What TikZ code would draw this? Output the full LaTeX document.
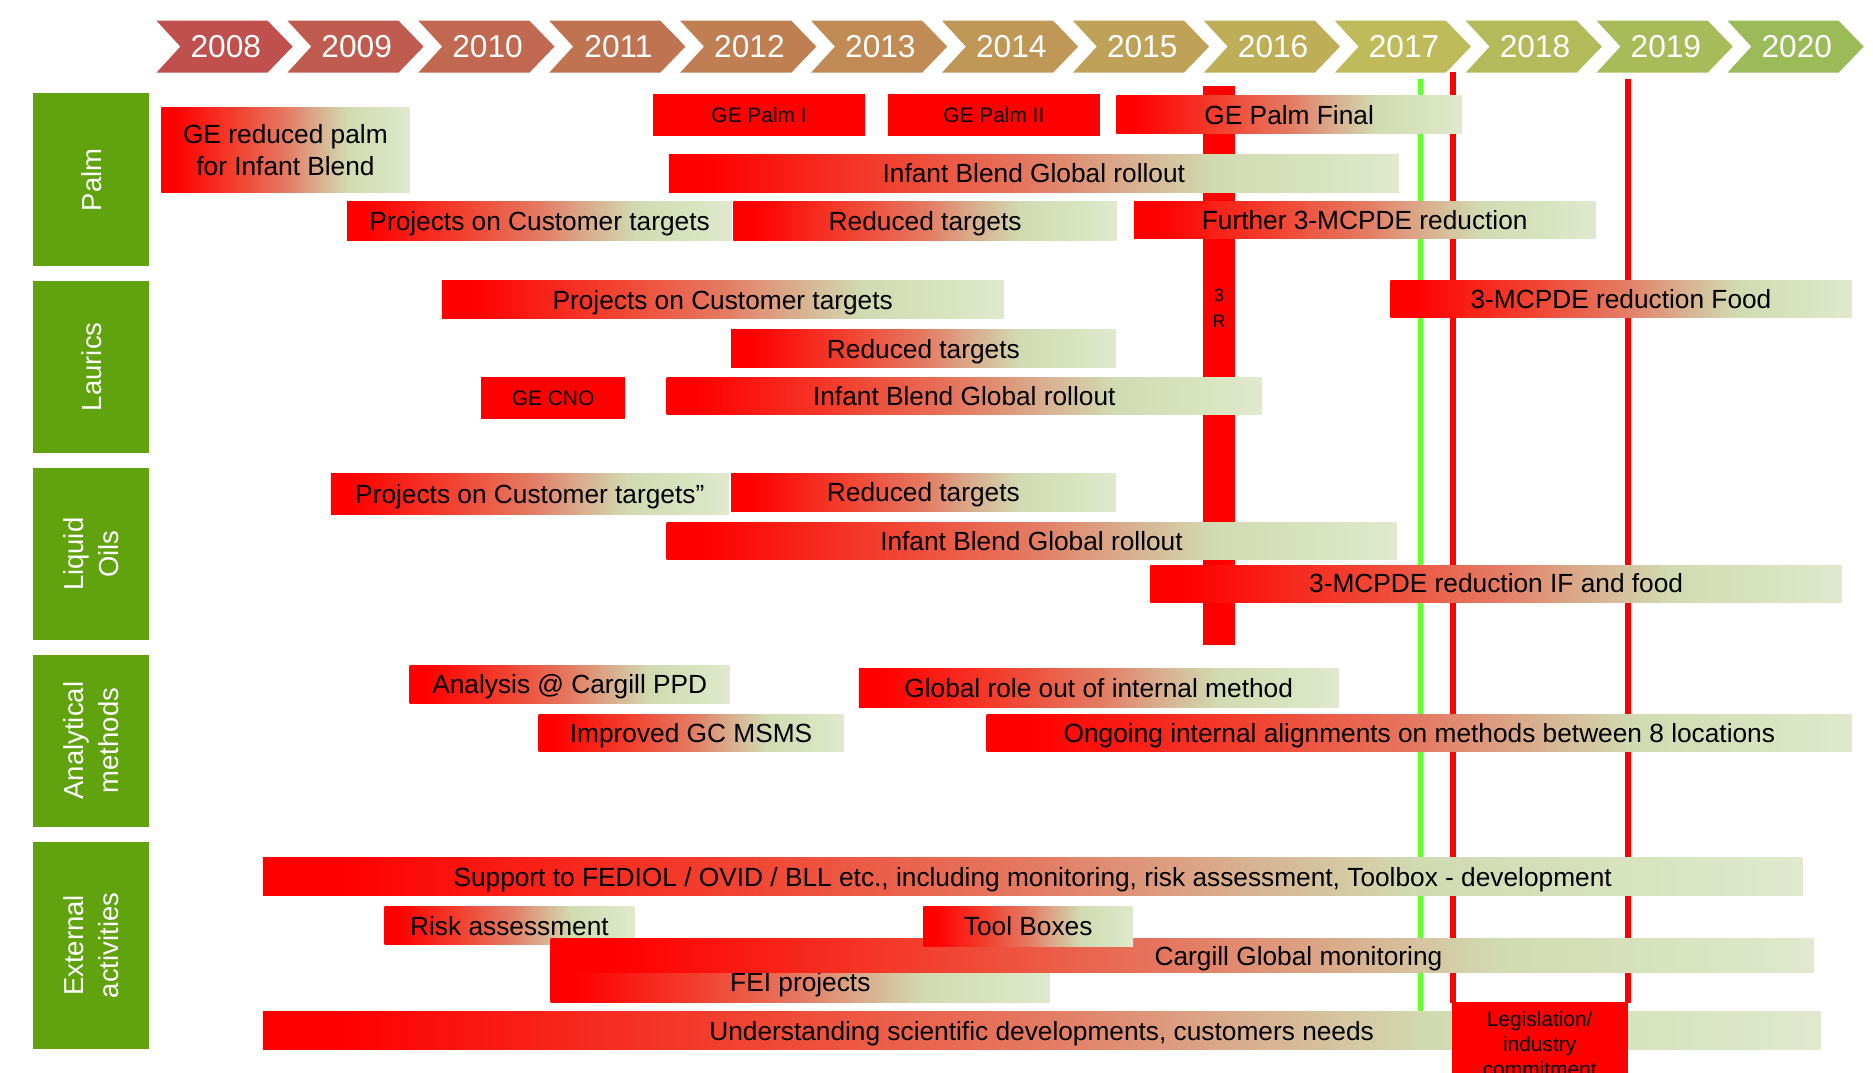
\documentclass[tikz,border=0pt]{standalone}
\usepackage{fontspec}
\setmainfont{Liberation Sans}
\usetikzlibrary{positioning}
\definecolor{chevred}{HTML}{C0504D}
\definecolor{chevolive}{HTML}{BFBA5A}
\definecolor{chevgreen}{HTML}{9BBB59}
\definecolor{catgreen}{HTML}{60A30E}
\definecolor{barred}{HTML}{FF0000}
\definecolor{barorange}{HTML}{F2412F}
\definecolor{barsalmon}{HTML}{E47A62}
\definecolor{bartan}{HTML}{D9AE8E}
\definecolor{barsage}{HTML}{D1DBB2}
\definecolor{barmint}{HTML}{D8E4C0}
\definecolor{barpale}{HTML}{E0E9CE}
\definecolor{markgreen}{HTML}{66FF33}

\pgfdeclarehorizontalshading{barshade}{100bp}{color(0bp)=(barred); color(27.5bp)=(barred);
  color(40bp)=(barorange); color(50bp)=(barsalmon); color(56.5bp)=(bartan);
  color(62.5bp)=(barsage); color(70bp)=(barmint); color(75bp)=(barpale); color(100bp)=(barpale)}

% one bar of the chart: [style]{name}{left}{top}{right}{bottom}{text}
\newcommand{\ganttbar}[7][bar]{%
  \node[#1, minimum width={#5-#3}, minimum height={#6-#4}] (#2)
    at ({(#3+#5)/2},{(#4+#6)/2}) {#7};}

\begin{document}
\begin{tikzpicture}[
  x=1pt, y=-1pt,
  font=\fontsize{22}{27}\selectfont,
  year/.style={text=white, font=\fontsize{26.5}{30}\selectfont},
  category/.style={fill=catgreen, text=white, rotate=90, align=center,
                   inner sep=0pt, minimum height=97, font=\fontsize{23}{29}\selectfont},
  bartext/.style={text height=17pt, text depth=1.2pt},
  twolinebar/.style={shade, shading=barshade, inner sep=0pt, align=center},
  bar/.style={twolinebar, bartext},
  solidbar/.style={fill=barred, inner sep=0pt, align=center},
  small/.style={font=\fontsize{17.5}{21}\selectfont},
  smallbar/.style={solidbar, small},
  greenmark/.style={draw=markgreen, line width=4.6pt},
  redmark/.style={draw=barred, line width=5pt}
]
\useasboundingbox (0,0) rectangle (1568,898);
\fill[white] (0,0) rectangle (1568,898);
\clip (0,0) rectangle (1568,898);

% Years along the top
\foreach \yr [count=\i from 0] in {2008,...,2020}{
  \pgfmathsetmacro{\xo}{131+109.6*\i}
  \ifnum\i<10
    \pgfmathsetmacro{\mix}{100*\i/9}
    \colorlet{chevfill}{chevolive!\mix!chevred}
  \else
    \pgfmathsetmacro{\mix}{100*(\i-9)/3}
    \colorlet{chevfill}{chevgreen!\mix!chevolive}
  \fi
  \fill[chevfill] (\xo,17.3) -- ++(93,0) -- ++(21,21.7) -- ++(-21,21.8)
    -- ++(-93,0) -- ++(20,-21.8) -- cycle;
  \node[year] (y\yr) at (\xo+58,39) {\yr};
}

% Topics on the left
\node[category, minimum width=145] (palm) at (76.5,150.5) {Palm};
\node[category, minimum width=144] (laurics) at (76.5,307) {Laurics};
\node[category, minimum width=144] (oils) at (76.5,464) {Liquid\\Oils};
\node[category, minimum width=144] (methods) at (76.5,620) {Analytical\\methods};
\node[category, minimum width=173] (external) at (76.5,791.5) {External\\activities};

% 2016 block and the 2017 / 2018 / 2019 markers (behind the bars)
\ganttbar[solidbar]{bar2016}{1007}{72}{1034}{540}{}
\node[font=\fontsize{15}{22}\selectfont, align=center, inner sep=0pt] (bar2016text)
  at (1020.5,258) {3\\R};
\coordinate (greentop) at (1189,66);
\coordinate (greenbottom) at (1189,846);
\coordinate (redtopA) at (1216,60);
\coordinate (redtopB) at (1363,66);
\coordinate (legistop) at (1289,840);
\draw[greenmark] (greentop) -- (greenbottom);
\draw[redmark] (redtopA) -- (redtopA |- legistop);
\draw[redmark] (redtopB) -- (redtopB |- legistop);

% Palm
\ganttbar[twolinebar]{palmge}{135}{90}{343}{161}{GE reduced palm\\for Infant Blend}
\ganttbar[smallbar]{palmgeI}{547}{79}{724}{114}{GE Palm I}
\ganttbar[smallbar]{palmgeII}{743.5}{79}{920.5}{114}{GE Palm II}
\ganttbar{palmfinal}{934.5}{80}{1224}{112}{GE Palm Final}
\ganttbar{palmrollout}{560}{129}{1171}{161}{Infant Blend Global rollout}
\ganttbar{palmproj}{290.5}{169}{613}{201}{Projects on Customer targets}
\ganttbar{palmreduced}{614}{169}{935}{201}{Reduced targets}
\ganttbar{palmfurther}{949.5}{169}{1335.5}{200}{Further 3-MCPDE reduction}

% Laurics
\ganttbar{lauproj}{370}{235}{840}{267}{Projects on Customer targets}
\ganttbar{laufood}{1164}{235}{1550}{266}{3-MCPDE reduction Food}
\ganttbar{laureduced}{612}{276}{934}{308}{Reduced targets}
\ganttbar[smallbar]{laucno}{403}{316}{523}{351}{GE CNO}
\ganttbar{laurollout}{558}{316}{1056.5}{347}{Infant Blend Global rollout}

% Liquid oils
\ganttbar{oilproj}{277}{396}{610}{431}{Projects on Customer targets”}
\ganttbar{oilreduced}{612}{396}{934}{428}{Reduced targets}
\ganttbar{oilrollout}{558}{437}{1169}{468.5}{Infant Blend Global rollout}
\ganttbar{oilfood}{963}{473}{1542}{504}{3-MCPDE reduction IF and food}

% Analytical methods
\ganttbar{anappd}{343}{557}{611}{589}{Analysis @ Cargill PPD}
\ganttbar{anaglobal}{719}{560}{1120.5}{592}{Global role out of internal method}
\ganttbar{anagc}{451}{598}{706}{629}{Improved GC MSMS}
\ganttbar{anaongoing}{826}{598}{1550.5}{629}{Ongoing internal alignments on methods between 8 locations}

% External activities
\ganttbar{extsupport}{220}{718}{1509}{750}{Support to FEDIOL / OVID / BLL etc., including monitoring, risk assessment, Toolbox - development}
\ganttbar{extrisk}{322}{759}{531}{791}{Risk assessment}
\ganttbar[bar, text depth=7.2pt]{extfei}{461}{812}{879}{839}{FEI projects}
\ganttbar{extcargill}{461}{786}{1518}{814}{}
\node[bartext, inner sep=0pt] (extcargilltext) at (1087,800) {Cargill Global monitoring};
\ganttbar{exttools}{773}{759}{948.5}{792}{Tool Boxes}
\ganttbar{extunderstand}{220}{847}{1524}{879}{Understanding scientific developments, customers needs}

% Legislation box under the 2018 bracket
\ganttbar[solidbar]{legis}{1215.3}{838.6}{1362.6}{930}{}
\node[small, align=center, inner sep=0pt, below=8pt of legis.north] (legistext)
  {Legislation/\\industry\\commitment};

\end{tikzpicture}
\end{document}
